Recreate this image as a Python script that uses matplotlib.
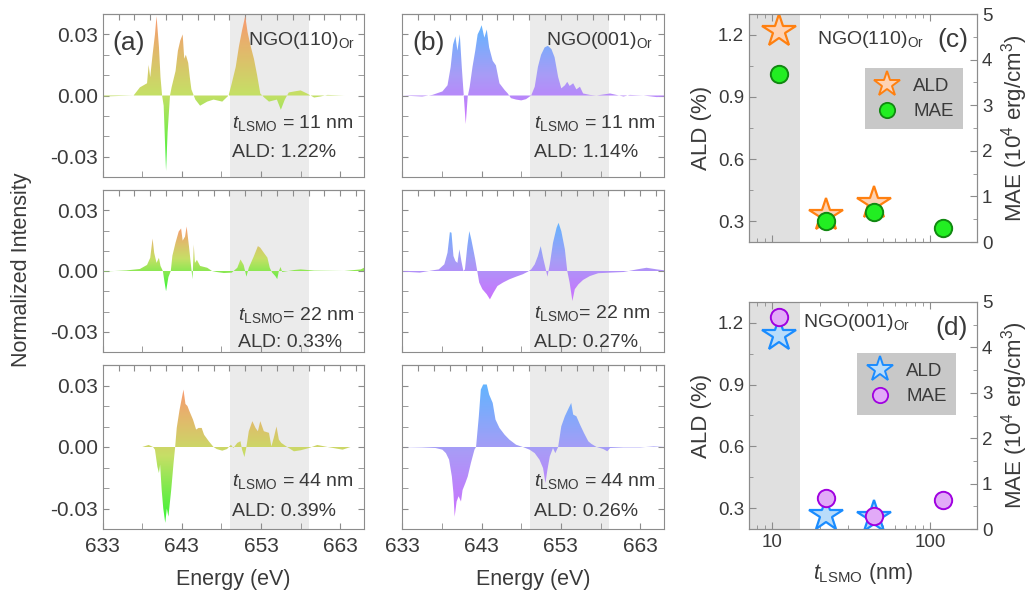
import numpy as np
import matplotlib
matplotlib.use('Agg')
import matplotlib.pyplot as plt
from matplotlib.colors import LinearSegmentedColormap
from matplotlib.ticker import FormatStrFormatter, NullFormatter
from matplotlib.lines import Line2D

plt.rcParams['font.family'] = ['Liberation Sans', 'DejaVu Sans']
plt.rcParams['mathtext.fontset'] = 'custom'
plt.rcParams['mathtext.rm'] = 'Liberation Sans'
plt.rcParams['mathtext.it'] = 'Liberation Sans:italic'
plt.rcParams['axes.unicode_minus'] = False

# ---- XMCD difference spectra, NGO(110) substrate (panel a) ----
e_a11 = [633.0, 636.9, 637.7, 638.6, 638.8, 639.0, 639.3, 639.6, 639.8, 640.1,
         640.3, 640.5, 640.7, 641.0, 641.2, 641.5, 641.7, 642.2, 642.5, 642.8,
         643.1, 643.3, 643.5, 643.8, 644.0, 644.2, 644.5, 644.7, 645.3, 646.2,
         647.0, 648.1, 648.9, 649.3, 649.8, 650.2, 650.6, 651.0, 651.3, 651.7,
         652.1, 652.5, 652.9, 653.4, 654.0, 655.0, 655.5, 656.0, 656.5, 657.2,
         658.0, 658.8, 659.7, 660.5, 661.4, 663.5, 666.0]
i_a11 = [-0.0005, 0.0, 0.004, 0.006, 0.015, 0.009, 0.020, 0.030, 0.039, 0.024,
         0.009, 0.0, -0.005, -0.037, -0.018, 0.0, 0.004, 0.012, 0.022, 0.027,
         0.030, 0.018, 0.020, 0.016, 0.009, 0.003, 0.0, -0.002, -0.005, -0.003,
         -0.002, -0.003, 0.0, 0.006, 0.014, 0.024, 0.032, 0.039, 0.031, 0.024,
         0.018, 0.010, 0.001, -0.001, -0.003, -0.002, -0.007, -0.002, 0.0015, 0.002,
         0.0025, 0.001, -0.001, -0.0005, 0.0003, 0.0, 0.0]

e_a22 = [633.0, 636.0, 637.7, 638.6, 639.0, 639.3, 639.5, 639.8, 640.1, 640.3,
         640.6, 640.75, 641.0, 641.3, 641.6, 641.8, 642.2, 642.6, 642.9, 643.1,
         643.4, 643.6, 643.9, 644.2, 644.35, 644.5, 644.65, 644.9, 645.3, 646.2,
         646.8, 647.4, 648.3, 649.3, 650.0, 650.4, 650.8, 651.15, 651.45, 652.1,
         652.6, 652.9, 653.35, 653.8, 654.1, 654.4, 654.8, 655.04, 655.25, 655.46,
         655.67, 657.2, 658.0, 659.7, 663.5, 665.6, 666.0]
i_a22 = [-0.0003, 0.0003, 0.001, 0.003, 0.0065, 0.016, 0.009, 0.004, 0.0065, 0.0025,
         0.0, -0.004, -0.010, -0.003, 0.0, 0.0075, 0.014, 0.0195, 0.021, 0.015,
         0.017, 0.022, 0.012, 0.001, -0.004, 0.013, 0.004, 0.0055, 0.0025, 0.0016,
         0.0, -0.0005, -0.001, -0.0008, 0.0016, 0.0057, 0.003, -0.0028, 0.0016, 0.0074,
         0.0123, 0.0115, 0.009, 0.0066, 0.0016, -0.0008, -0.0025, -0.004, 0.0, 0.002,
         -0.0005, 0.0005, 0.0008, 0.0002, 0.0, 0.0008, 0.0016]

e_a44 = [633.0, 638.0, 638.8, 639.36, 639.6, 639.9, 640.1, 640.25, 640.45, 640.65,
         640.9, 641.1, 641.3, 641.65, 641.95, 642.15, 642.35, 642.7, 643.05, 643.2,
         643.45, 643.7, 643.95, 644.4, 644.8, 645.1, 645.5, 645.8, 646.4, 647.0,
         647.4, 648.1, 648.7, 649.2, 649.5, 650.0, 650.4, 650.6, 650.9, 651.15,
         651.45, 651.9, 652.3, 652.6, 652.9, 653.35, 654.0, 654.3, 654.6, 654.95,
         655.25, 655.55, 656.3, 657.15, 658.0, 659.05, 660.1, 661.4, 663.3, 664.3,
         666.0]
i_a44 = [0.0, 0.0, 0.001, 0.0, -0.0013, -0.0095, -0.0127, -0.0086, -0.021, -0.030,
         -0.037, -0.030, -0.034, -0.021, -0.0078, 0.0, 0.0093, 0.018, 0.025, 0.028,
         0.021, 0.020, 0.0175, 0.0134, 0.0085, 0.0093, 0.0093, 0.006, 0.0028, 0.0,
         -0.001, -0.0018, -0.001, 0.0011, -0.0005, 0.002, 0.0028, -0.0013, -0.0049, 0.0,
         0.0077, 0.0126, 0.0093, 0.0077, 0.0126, 0.0077, 0.0069, 0.0003, 0.0044, 0.010,
         0.0036, 0.002, 0.0, -0.0021, -0.0016, -0.0005, 0.001, 0.0, -0.0013, 0.0,
         0.0]

# ---- XMCD difference spectra, NGO(001) substrate (panel b) ----
e_b11 = [632.9, 635.5, 636.8, 638.06, 638.7, 639.1, 639.4, 639.7, 639.95, 640.25,
         640.5, 640.75, 641.0, 641.25, 641.5, 641.85, 642.2, 642.5, 642.8, 643.0,
         643.35, 643.65, 643.95, 644.4, 644.8, 645.25, 645.9, 646.3, 646.7, 647.35,
         648.0, 648.6, 649.25, 649.7, 650.1, 650.5, 650.95, 651.35, 651.8, 652.2,
         652.65, 653.05, 653.5, 653.8, 654.1, 654.55, 654.95, 655.4, 655.8, 656.65,
         657.5, 659.2, 660.9, 661.7, 663.4, 665.1, 666.1]
i_b11 = [0.0, -0.0005, 0.0003, 0.002, 0.005, 0.014, 0.025, 0.029, 0.022, 0.030,
         0.014, 0.0, -0.014, -0.0005, 0.0043, 0.014, 0.022, 0.030, 0.0324, 0.0345,
         0.0284, 0.0324, 0.0236, 0.017, 0.0148, 0.006, 0.0027, 0.001, -0.0013, -0.002,
         -0.0024, -0.0018, 0.0, 0.0043, 0.014, 0.020, 0.0236, 0.0244, 0.0228, 0.0188,
         0.0091, 0.0035, 0.005, 0.0067, 0.0047, 0.006, 0.003, 0.0043, 0.001, 0.0003,
         0.0, 0.001, -0.0005, 0.0003, 0.0, -0.0008, -0.0005]

e_b22 = [632.9, 635.2, 636.8, 637.6, 638.3, 638.7, 639.0, 639.2, 639.45, 639.7,
         639.95, 640.2, 640.45, 640.7, 640.9, 641.2, 641.45, 641.7, 641.95, 642.2,
         642.45, 642.7, 643.1, 643.65, 644.05, 644.5, 645.0, 645.7, 646.5, 647.35,
         648.2, 648.85, 649.25, 649.7, 650.1, 650.45, 650.75, 651.05, 651.3, 651.6,
         652.0, 652.45, 652.7, 653.05, 653.5, 653.8, 654.1, 654.45, 654.75, 655.2,
         655.8, 656.65, 657.7, 659.2, 660.9, 662.6, 663.8, 665.1, 666.1]
i_b22 = [-0.0003, -0.0008, 0.0003, 0.0008, 0.0033, 0.009, 0.0192, 0.0189, 0.0074, 0.0049,
         0.004, 0.0107, 0.0049, 0.0, 0.0008, 0.0123, 0.0197, 0.0156, 0.0107, 0.0057,
         0.0, -0.0057, -0.009, -0.0115, -0.014, -0.0107, -0.0074, -0.0057, -0.0041, -0.0028,
         -0.0016, -0.0003, 0.0008, 0.0033, 0.0074, 0.0123, 0.0066, 0.0016, -0.0028, 0.0033,
         0.0139, 0.0213, 0.0238, 0.0197, 0.0107, 0.0, -0.0057, -0.0148, -0.009, -0.0066,
         -0.0044, -0.0025, -0.0011, -0.0008, -0.0005, 0.0008, 0.0016, 0.0008, 0.0003]

e_b44 = [632.9, 635.5, 637.2, 638.05, 638.5, 638.9, 639.25, 639.45, 639.6, 639.85,
         640.1, 640.4, 640.6, 640.95, 641.25, 641.65, 642.1, 642.3, 642.65, 642.9,
         643.2, 643.65, 643.95, 644.4, 644.75, 645.25, 645.9, 646.5, 647.35, 648.2,
         649.05, 649.7, 650.3, 650.75, 651.05, 651.3, 651.6, 652.0, 652.3, 652.65,
         653.05, 653.5, 653.9, 654.3, 654.55, 654.95, 655.4, 655.9, 656.45, 656.85,
         657.5, 658.35, 658.85, 659.2, 660.9, 663.0, 664.7, 666.1]
i_b44 = [0.0, -0.0002, -0.0005, -0.0013, -0.003, -0.0062, -0.0144, -0.0225, -0.034, -0.0266,
         -0.024, -0.0266, -0.021, -0.0176, -0.0144, -0.0078, -0.0013, 0.0, 0.015, 0.028,
         0.0305, 0.0305, 0.0256, 0.0215, 0.0134, 0.0093, 0.006, 0.0036, 0.0011, 0.0,
         -0.0013, -0.003, -0.0062, -0.0103, -0.0176, -0.0111, -0.0046, -0.0005, -0.003, 0.0,
         0.0101, 0.015, 0.0183, 0.0215, 0.0158, 0.015, 0.011, 0.0069, 0.0028, 0.0015,
         0.0, -0.001, -0.0021, -0.0005, -0.0002, -0.0002, 0.0003, 0.0]

thick_labels = [r'$t_{\rm LSMO}$ = 11 nm', r'$t_{\rm LSMO}$= 22 nm', r'$t_{\rm LSMO}$ = 44 nm']
ald_a_labels = ['ALD: 1.22%', 'ALD: 0.33%', 'ALD: 0.39%']
ald_b_labels = ['ALD: 1.14%', 'ALD: 0.27%', 'ALD: 0.26%']

# ---- ALD / MAE vs thickness (panels c, d) ----
t_ald = [11, 22, 44]
ald_110 = [1.22, 0.33, 0.39]
ald_001 = [1.14, 0.27, 0.26]
t_mae = [11, 22, 44, 120]
mae_110 = [3.68, 0.47, 0.65, 0.31]
mae_001 = [4.66, 0.68, 0.29, 0.64]

W, H = 1029, 598
GRAY = '#8c8c8c'
TXT = '#3a3a3a'

cmap_a = LinearSegmentedColormap.from_list('ga', ['#33f533', '#c6df66', '#f89a70'])
cmap_b = LinearSegmentedColormap.from_list('gb', ['#cc70ff', '#a89cf6', '#62b4ff'])


def box(l, t, r, b):
    return [l / W, 1 - b / H, (r - l) / W, (b - t) / H]


def grad_fill(ax, x, y, cmap):
    x = np.asarray(x)
    y = np.asarray(y)
    poly = ax.fill_between(x, y, 0, facecolor='none', edgecolor='none')
    path = poly.get_paths()[0]
    grad = np.linspace(0, 1, 256).reshape(-1, 1)
    im = ax.imshow(grad, extent=[x.min(), x.max(), y.min(), y.max()], origin='lower',
                   aspect='auto', cmap=cmap, zorder=2, interpolation='bilinear')
    im.set_clip_path(path, transform=ax.transData)


def style_spec(ax, bottom_row, show_y):
    ax.set_xlim(633, 666)
    ax.set_ylim(-0.04, 0.04)
    ax.axvspan(649.1, 659.1, color='#ebebeb', zorder=0, lw=0)
    ax.set_xticks([633, 643, 653, 663])
    ax.set_xticks([638, 648, 658], minor=True)
    ax.set_yticks([-0.03, 0.0, 0.03])
    ax.set_yticks([-0.04, -0.02, -0.01, 0.01, 0.02, 0.04], minor=True)
    ax.yaxis.set_major_formatter(FormatStrFormatter('%.2f'))
    ax.tick_params(which='both', direction='in', length=4, color=GRAY, right=True,
                   labelsize=15, labelcolor=TXT, labelbottom=bottom_row, labelleft=show_y)
    ax.tick_params(axis='x', pad=6)
    sec = ax.secondary_xaxis('top')
    sec.set_xticks(list(range(635, 666, 2)))
    sec.tick_params(direction='in', length=4, color=GRAY, labeltop=False)
    sec.spines['top'].set_color(GRAY)
    for s in ax.spines.values():
        s.set_color(GRAY)
    if bottom_row:
        ax.set_xlabel('Energy (eV)', fontsize=15.5, color=TXT, labelpad=9)


fig = plt.figure(figsize=(W / 100, H / 100), dpi=100)

rows = [(14, 177), (190, 352), (365, 529)]
spec_a = [(e_a11, i_a11), (e_a22, i_a22), (e_a44, i_a44)]
spec_b = [(e_b11, i_b11), (e_b22, i_b22), (e_b44, i_b44)]
tpos_a = [(0.495, 0.33, 0.15), (0.518, 0.23, 0.056), (0.495, 0.29, 0.105)]
tpos_b = [(0.504, 0.33, 0.15), (0.504, 0.24, 0.056), (0.504, 0.29, 0.104)]

for k, (top, bot) in enumerate(rows):
    axa = fig.add_axes(box(102.7, top, 364, bot))
    grad_fill(axa, *spec_a[k], cmap_a)
    style_spec(axa, k == 2, True)
    tx, ty1, ty2 = tpos_a[k]
    axa.text(tx, ty1, thick_labels[k], transform=axa.transAxes, fontsize=14, color=TXT, va='center', zorder=5)
    axa.text(tx, ty2, ald_a_labels[k], transform=axa.transAxes, fontsize=14, color=TXT, va='center', zorder=5)

    axb = fig.add_axes(box(402.3, top, 664, bot))
    grad_fill(axb, *spec_b[k], cmap_b)
    style_spec(axb, k == 2, False)
    tx, ty1, ty2 = tpos_b[k]
    axb.text(tx, ty1, thick_labels[k], transform=axb.transAxes, fontsize=14, color=TXT, va='center', zorder=5)
    axb.text(tx, ty2, ald_b_labels[k], transform=axb.transAxes, fontsize=14, color=TXT, va='center', zorder=5)

    if k == 0:
        axa.text(0.036, 0.82, '(a)', transform=axa.transAxes, fontsize=19, color=TXT, va='center', zorder=5)
        axa.text(0.966, 0.84, r'NGO(110)$_{\rm Or}$', transform=axa.transAxes, fontsize=14,
                 color=TXT, va='center', ha='right', zorder=5)
        axb.text(0.037, 0.82, '(b)', transform=axb.transAxes, fontsize=19, color=TXT, va='center', zorder=5)
        axb.text(0.958, 0.84, r'NGO(001)$_{\rm Or}$', transform=axb.transAxes, fontsize=14,
                 color=TXT, va='center', ha='right', zorder=5)

fig.text(22 / W, 1 - 270 / H, 'Normalized Intensity', rotation=90, fontsize=15.5,
         color=TXT, ha='center', va='center')

# ---- right panels ----
panels = [
    (14, 242, ald_110, mae_110, '#fdd3b5', '#ff8010', '#22ee22', '#118811',
     r'NGO(110)$_{\rm Or}$', (0.30, 0.886), '(c)', (0.50, 0.94, 0.487, 0.763)),
    (302, 529, ald_001, mae_001, '#b9dcfa', '#1a8cff', '#e2aaf8', '#a000e0',
     r'NGO(001)$_{\rm Or}$', (0.237, 0.91), '(d)', (0.474, 0.908, 0.493, 0.775)),
]

for j, (top, bot, ald, mae, sfc, sec_, cfc, cec, sub, spos, tag, lg) in enumerate(panels):
    ax = fig.add_axes(box(749, top, 977, bot))
    ax.set_xscale('log')
    ax.set_xlim(7.1, 198)
    ax.set_ylim(0.2, 1.3)
    ax.axvspan(7.1, 15, color='#e0e0e0', zorder=0, lw=0)
    ax.plot(t_ald, ald, ls='none', marker='*', ms=25, mfc=sfc, mec=sec_, mew=1.6, zorder=3)
    ax.set_yticks([0.3, 0.6, 0.9, 1.2])
    ax.set_yticks([0.45, 0.75, 1.05], minor=True)
    ax.set_xticks([10, 100], labels=['10', '100'])
    ax.xaxis.set_minor_formatter(NullFormatter())
    ax.tick_params(which='both', direction='in', color=GRAY, top=True, right=False,
                   labelsize=13.5, labelcolor=TXT, labelbottom=(j == 1))
    ax.tick_params(which='major', length=5)
    ax.tick_params(which='minor', length=3)
    ax.set_ylabel('ALD (%)', fontsize=16, color=TXT, labelpad=4)
    if j == 1:
        ax.set_xlabel(r'$t_{\rm LSMO}$ (nm)', fontsize=15.5, color=TXT, labelpad=7)

    ax2 = ax.twinx()
    ax2.set_ylim(0, 5)
    ax2.plot(t_mae, mae, ls='none', marker='o', ms=12.5, mfc=cfc, mec=cec, mew=1.4, zorder=3)
    ax2.set_yticks([0, 1, 2, 3, 4, 5])
    ax2.set_yticks(np.arange(0.5, 5, 1.0), minor=True)
    ax2.tick_params(which='both', direction='in', color=GRAY, labelsize=13.5, labelcolor=TXT)
    ax2.tick_params(which='major', length=5)
    ax2.tick_params(which='minor', length=3)
    ax2.set_ylabel(r'MAE (10$^4$ erg/cm$^3$)', fontsize=16, color=TXT, labelpad=5)
    for a in (ax, ax2):
        for s in a.spines.values():
            s.set_color(GRAY)

    ax.text(spos[0], spos[1], sub, transform=ax.transAxes, fontsize=14, color=TXT, va='center')
    ax.text(0.96, 0.886, tag, transform=ax.transAxes, fontsize=19, color=TXT, va='center', ha='right')

    h = [Line2D([], [], ls='none', marker='*', ms=19, mfc=sfc, mec=sec_, mew=1.4),
         Line2D([], [], ls='none', marker='o', ms=11, mfc=cfc, mec=cec, mew=1.3)]
    leg = ax2.legend(h, ['ALD', 'MAE'], loc='upper right', bbox_to_anchor=(lg[1], lg[3]),
                     frameon=True, facecolor='#c8c8c8', edgecolor='none', framealpha=1,
                     fancybox=False, fontsize=13.5, borderpad=0.5, handlelength=1.4,
                     handletextpad=0.7, labelspacing=0.45, borderaxespad=0)
    for t in leg.get_texts():
        t.set_color(TXT)

fig.savefig('out.png', dpi=100)
